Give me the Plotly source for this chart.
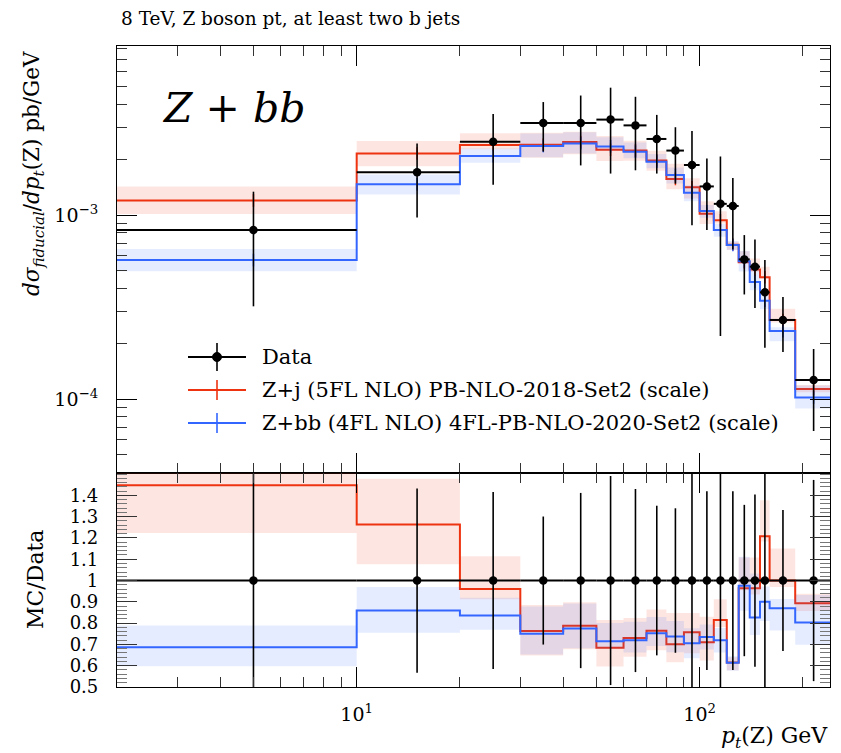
import plotly.graph_objects as go
import math

# ---------------- data ----------------
title_text = "8 TeV, Z boson pt, at least two b jets"
bin_edges = [0, 10, 20, 30, 40, 50, 60, 70, 80, 90, 100, 110, 120, 130, 140, 150, 160, 190, 240]

data_y = [8.29e-4, 1.71e-3, 2.50e-3, 3.16e-3, 3.16e-3, 3.30e-3, 3.07e-3, 2.59e-3, 2.24e-3,
          1.87e-3, 1.43e-3, 1.15e-3, 1.12e-3, 5.74e-4, 5.24e-4, 3.80e-4, 2.69e-4, 1.27e-4]
data_err = [5.1e-4, 7.4e-4, 1.04e-3, 9.5e-4, 1.30e-3, 1.62e-3, 1.32e-3, 9.1e-4, 7.6e-4,
            9.9e-4, 6.0e-4, 9.3e-4, 4.7e-4, 2.04e-4, 2.12e-4, 1.90e-4, 8.9e-5, 6.0e-5]

zj_y = [1.20e-3, 2.16e-3, 2.40e-3, 2.41e-3, 2.49e-3, 2.26e-3, 2.24e-3, 1.98e-3, 1.57e-3,
        1.415e-3, 1.015e-3, 9.37e-4, 6.89e-4, 5.53e-4, 5.05e-4, 4.59e-4, 2.69e-4, 1.134e-4]
zj_up = [0.19, 0.17, 0.16, 0.16, 0.14, 0.19, 0.13, 0.13, 0.21, 0.12, 0.17, 0.12, 0.04, 0.15, 0.15, 0.14, 0.15, 0.05]
zj_dn = [0.155, 0.148, 0.05, 0.15, 0.14, 0.13, 0.12, 0.12, 0.12, 0.13, 0.12, 0.04, 0.06, 0.01, 0.03, 0.02, 0.03, 0.04]

zbb_y = [5.69e-4, 1.47e-3, 2.09e-3, 2.37e-3, 2.45e-3, 2.36e-3, 2.21e-3, 1.95e-3, 1.65e-3,
         1.32e-3, 1.05e-3, 8.28e-4, 6.87e-4, 5.60e-4, 4.33e-4, 3.42e-4, 2.34e-4, 1.02e-4]
zbb_up = [0.15, 0.128, 0.10, 0.17, 0.15, 0.12, 0.12, 0.10, 0.10, 0.10, 0.08, 0.08, 0.05, 0.14, 0.25, 0.08, 0.05, 0.16]
zbb_dn = [0.13, 0.122, 0.08, 0.13, 0.12, 0.05, 0.08, 0.08, 0.10, 0.10, 0.08, 0.08, 0.06, 0.12, 0.10, 0.10, 0.12, 0.13]

legend_labels = ["Data",
                 "Z+j (5FL NLO) PB-NLO-2018-Set2 (scale)",
                 "Z+bb (4FL NLO) 4FL-PB-NLO-2020-Set2 (scale)"]

# ---------------- styling ----------------
FONT = "DejaVu Serif"
RED = "#ee3311"
BLUE = "#3366ff"
RED_BAND = "rgba(238,51,17,0.12)"
BLUE_BAND = "rgba(51,102,255,0.12)"

W, H = 841, 753
ML, MR, MT, MB = 117, 11, 46, 66
PW, PH = W - ML - MR, H - MT - MB
RATIO_FRAC = 214 / PH

X_MIN, X_MAX = 2, 240


def px(xp):
    return (xp - ML) / PW


def py(yp):
    return (H - MB - yp) / PH


centers = [(bin_edges[i] + bin_edges[i + 1]) / 2 for i in range(len(data_y))]
edges_clip = [max(e, X_MIN) for e in bin_edges]


def step(vals):
    return edges_clip, list(vals) + [vals[-1]]


fig = go.Figure()


def add_mc(yvals, up, dn, color, band, xa, ya, ratio=False):
    if ratio:
        base = [v / d for v, d in zip(yvals, data_y)]
    else:
        base = list(yvals)
    lo = [b * (1 - d) for b, d in zip(base, dn)]
    hi = [b * (1 + u) for b, u in zip(base, up)]
    xs, ys = step(lo)
    fig.add_trace(go.Scatter(x=xs, y=ys, mode="lines", line=dict(width=0, shape="hv"),
                             xaxis=xa, yaxis=ya, showlegend=False, hoverinfo="skip"))
    xs, ys = step(hi)
    fig.add_trace(go.Scatter(x=xs, y=ys, mode="lines", line=dict(width=0, shape="hv"),
                             fill="tonexty", fillcolor=band,
                             xaxis=xa, yaxis=ya, showlegend=False, hoverinfo="skip"))
    xs, ys = step(base)
    fig.add_trace(go.Scatter(x=xs, y=ys, mode="lines", line=dict(width=2, color=color, shape="hv"),
                             xaxis=xa, yaxis=ya, showlegend=False, hoverinfo="skip"))
    if not ratio:
        fig.add_trace(go.Scatter(x=centers, y=base, mode="markers",
                                 marker=dict(symbol="line-ns", size=9,
                                             line=dict(width=1.5, color=color)),
                                 xaxis=xa, yaxis=ya, showlegend=False, hoverinfo="skip"))


def add_data(yvals, errs, xa, ya):
    hx, hy = [], []
    for i, v in enumerate(yvals):
        hx += [edges_clip[i], edges_clip[i + 1], None]
        hy += [v, v, None]
    fig.add_trace(go.Scatter(x=hx, y=hy, mode="lines", line=dict(width=2, color="black"),
                             xaxis=xa, yaxis=ya, showlegend=False, hoverinfo="skip"))
    fig.add_trace(go.Scatter(x=centers, y=yvals, mode="markers",
                             marker=dict(symbol="circle", size=8.5, color="black"),
                             error_y=dict(type="data", array=errs, visible=True,
                                          thickness=1.6, width=0, color="black"),
                             xaxis=xa, yaxis=ya, showlegend=False, hoverinfo="skip"))


# main panel
add_mc(zj_y, zj_up, zj_dn, RED, RED_BAND, "x", "y")
add_mc(zbb_y, zbb_up, zbb_dn, BLUE, BLUE_BAND, "x", "y")
add_data(data_y, data_err, "x", "y")

# ratio panel
add_mc(zj_y, zj_up, zj_dn, RED, RED_BAND, "x2", "y2", ratio=True)
add_mc(zbb_y, zbb_up, zbb_dn, BLUE, BLUE_BAND, "x2", "y2", ratio=True)
add_data([1.0] * len(data_y), [e / d for e, d in zip(data_err, data_y)], "x2", "y2")

# ---------------- axes ----------------
x_minor = [2, 3, 4, 5, 6, 7, 8, 9, 20, 30, 40, 50, 60, 70, 80, 90, 200]
common_x = dict(type="log", range=[math.log10(X_MIN), math.log10(X_MAX)], showgrid=False,
                zeroline=False, showline=True, linecolor="black", linewidth=1.2, mirror="allticks",
                ticks="inside", ticklen=20, tickwidth=1.2, tickcolor="black",
                tickvals=[10, 100],
                minor=dict(ticks="inside", ticklen=10, tickwidth=1, tickcolor="#333",
                           tickvals=x_minor))

y_minor = [5e-5, 6e-5, 7e-5, 8e-5, 9e-5, 2e-4, 3e-4, 4e-4, 5e-4, 6e-4, 7e-4, 8e-4, 9e-4,
           2e-3, 3e-3, 4e-3, 5e-3, 6e-3, 7e-3, 8e-3]
ratio_major = [0.5, 0.6, 0.7, 0.8, 0.9, 1.0, 1.1, 1.2, 1.3, 1.4]
ratio_text = ["0.5", "0.6", "0.7", "0.8", "0.9", "1", "1.1", "1.2", "1.3", "1.4"]
ratio_minor = [round(0.5 + 0.02 * i, 2) for i in range(51)]

fig.update_layout(
    width=W, height=H,
    margin=dict(l=ML, r=MR, t=MT, b=MB),
    paper_bgcolor="white", plot_bgcolor="white",
    font=dict(family=FONT, size=18, color="black"),
    showlegend=False,
    xaxis=dict(common_x, anchor="y", domain=[0, 1], showticklabels=False, matches="x2"),
    xaxis2=dict(common_x, anchor="y2", domain=[0, 1],
                ticktext=["10<sup>1</sup>", "10<sup>2</sup>"], ticklabelstandoff=10,
                tickfont=dict(family=FONT, size=19)),
    yaxis=dict(type="log", domain=[RATIO_FRAC, 1], range=[-4.402, -2.0815], anchor="x",
               showgrid=False, zeroline=False, showline=True, linecolor="black", linewidth=1.2,
               mirror="allticks", ticks="inside", ticklen=20, tickwidth=1.2, tickcolor="black",
               tickvals=[1e-4, 1e-3], ticktext=["10<sup>−4</sup>", "10<sup>−3</sup>"],
               ticklabelstandoff=14, tickfont=dict(family=FONT, size=19),
               minor=dict(ticks="inside", ticklen=10, tickwidth=1, tickcolor="#333",
                          tickvals=y_minor)),
    yaxis2=dict(domain=[0, RATIO_FRAC], range=[0.5, 1.505], anchor="x2",
                showgrid=False, zeroline=False, showline=True, linecolor="black", linewidth=1.2,
                mirror="allticks", ticks="inside", ticklen=20, tickwidth=1, tickcolor="#333",
                tickvals=ratio_major, ticktext=ratio_text,
                ticklabelstandoff=14, tickfont=dict(family=FONT, size=18),
                minor=dict(ticks="inside", ticklen=10, tickwidth=1, tickcolor="#777",
                           tickvals=ratio_minor)),
)

# ---------------- texts ----------------
ann = []
ann.append(dict(text=title_text, x=px(119), y=py(18), xref="paper", yref="paper",
                xanchor="left", yanchor="middle", showarrow=False,
                font=dict(family=FONT, size=18.5)))
ann.append(dict(text="<i>Z</i> + <i>bb</i>", x=px(160), y=py(108), xref="paper", yref="paper",
                xanchor="left", yanchor="middle", showarrow=False,
                font=dict(family=FONT, size=41)))
ann.append(dict(text="<i>dσ</i><sub><i>fiducial</i></sub>/<i>dp</i><sub><i>t</i></sub>(Z) pb/GeV",
                x=px(33), y=py(174), xref="paper", yref="paper", textangle=-90,
                xanchor="center", yanchor="middle", showarrow=False,
                font=dict(family=FONT, size=21.5)))
ann.append(dict(text="MC/Data", x=px(35), y=py(580), xref="paper", yref="paper", textangle=-90,
                xanchor="center", yanchor="middle", showarrow=False,
                font=dict(family=FONT, size=22)))
ann.append(dict(text="<i>p</i><sub><i>t</i></sub>(Z) GeV", x=1, y=py(737), xref="paper",
                yref="paper", xanchor="right", yanchor="middle", showarrow=False,
                font=dict(family=FONT, size=22)))

# legend (drawn manually)
shapes = []
leg_rows = [357, 390, 423]
leg_colors = ["black", RED, BLUE]
for i, (row, col, lab) in enumerate(zip(leg_rows, leg_colors, legend_labels)):
    shapes.append(dict(type="line", xref="paper", yref="paper", x0=px(188), x1=px(246),
                       y0=py(row), y1=py(row), line=dict(color=col, width=2)))
    vlen = 14 if i == 0 else 10
    shapes.append(dict(type="line", xref="paper", yref="paper", x0=px(217), x1=px(217),
                       y0=py(row - vlen), y1=py(row + vlen), line=dict(color=col, width=1.6)))
    ann.append(dict(text=lab, x=px(260), y=py(row), xref="paper", yref="paper",
                    xanchor="left", yanchor="middle", showarrow=False,
                    font=dict(family=FONT, size=21)))
shapes.append(dict(type="circle", xref="paper", yref="paper", xsizemode="pixel",
                   ysizemode="pixel", xanchor=px(217), yanchor=py(leg_rows[0]),
                   x0=-4.5, x1=4.5, y0=-4.5, y1=4.5, fillcolor="black",
                   line=dict(color="black", width=1)))

fig.update_layout(annotations=ann, shapes=shapes)

fig.write_html("out.html")
